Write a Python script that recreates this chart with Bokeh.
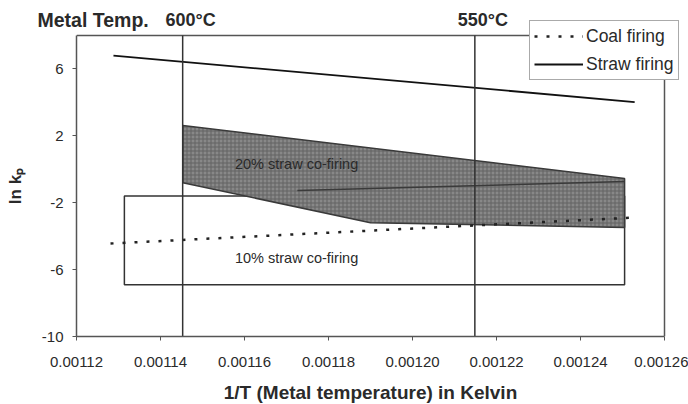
import math

from bokeh.plotting import figure
from bokeh.models import (Label, Legend, LegendItem, FixedTicker,
                          PrintfTickFormatter, Range1d)
from bokeh.core.properties import value
from bokeh.embed import file_html
from bokeh.resources import INLINE

# 1/T (1/K) against ln kp
coal_x = [0.0011281, 0.0012524]
coal_y = [-4.44, -2.89]
straw_x = [0.0011288, 0.0012529]
straw_y = [6.80, 4.02]

# 20 % straw co-firing band (outline)
band20_x = [0.0011453, 0.0012505, 0.0012505, 0.0011900, 0.0011453]
band20_y = [2.62, -0.55, -3.48, -3.20, -0.80]
# darker trend line running through the band
band20_mid_x = [0.0011726, 0.0012505]
band20_mid_y = [-1.27, -0.73]

# 10 % straw co-firing range (box)
box10_x = [0.0011314, 0.0012505]
box10_y = [-6.9, -1.6]

metal_temps_c = [600, 550]
x_ticks = [0.00112, 0.00114, 0.00116, 0.00118, 0.00120, 0.00122, 0.00124, 0.00126]
y_ticks = [-10, -6, -2, 2, 6]

# axis extents of the plot area
X_LO, X_HI = 0.00112, 0.00126
Y_LO, Y_HI = -10, 8
X_MID = (X_LO + X_HI) / 2
Y_MID = (Y_LO + Y_HI) / 2

FONT = "Liberation Sans"
INK = "#2a2a2a"
EDGE = "#555555"

# the frame runs to the top and right edges of the canvas so that the
# header labels and the legend can sit above / beside the plot area
p = figure(width=688, height=404,
           x_range=Range1d(X_LO, X_HI + (X_HI - X_LO) * 24 / 588),
           y_range=Range1d(Y_LO, Y_HI + (Y_HI - Y_LO) * 35 / 301),
           output_backend="svg", toolbar_location=None,
           min_border_left=76, min_border_right=0,
           min_border_top=0, min_border_bottom=68)
p.background_fill_color = "white"
p.border_fill_color = "white"
p.outline_line_color = None
p.xgrid.visible = False
p.ygrid.visible = False

for ax in (p.xaxis[0], p.yaxis[0]):
    ax.axis_line_color = EDGE
    ax.axis_line_width = 1.5
    ax.major_tick_line_color = EDGE
    ax.major_tick_out = 4
    ax.major_tick_in = 0
    ax.minor_tick_line_color = None
    ax.major_label_text_font = FONT
    ax.major_label_text_font_size = "15px"
    ax.major_label_text_color = INK

p.xaxis.bounds = (X_LO, X_HI)
p.xaxis.ticker = FixedTicker(ticks=x_ticks)
p.xaxis.formatter = PrintfTickFormatter(format="%.5f")
p.xaxis.major_label_standoff = 16

p.yaxis.bounds = (Y_LO, Y_HI)
p.yaxis.ticker = FixedTicker(ticks=y_ticks)
p.yaxis.formatter = PrintfTickFormatter(format="%d")
p.yaxis.major_label_standoff = 9

# axis titles, centred on the plot area rather than on the whole frame
p.text(x=[X_MID], y=[Y_LO], text=["1/T (Metal temperature) in Kelvin"],
       y_offset=56, text_align="center", text_baseline="middle",
       text_font=value(FONT), text_font_size="19px", text_font_style="bold",
       text_color=INK, level="overlay")
p.text(x=[X_LO], y=[Y_MID], text=["ln kₚ"], x_offset=-61, angle=math.pi / 2,
       text_align="center", text_baseline="middle",
       text_font=value(FONT), text_font_size="17px", text_font_style="bold",
       text_color=INK, level="overlay")

# top and right edges of the plot area
p.line([X_LO, X_HI, X_HI], [Y_HI, Y_HI, Y_LO], line_color=EDGE, line_width=1.5)

# 10 % co-firing box, drawn under the band
p.quad(left=box10_x[0], right=box10_x[1], bottom=box10_y[0], top=box10_y[1],
       fill_color=None, line_color="#333333", line_width=1.5)

# 20 % co-firing band
p.patch(band20_x, band20_y, fill_color="#888888", line_color="#3a3a3a",
        line_width=1.5, hatch_pattern="+", hatch_color="#626262",
        hatch_scale=4, hatch_weight=1)
p.line(band20_mid_x, band20_mid_y, line_color="#3a3a3a", line_width=1.5)

coal_r = p.line(coal_x, coal_y, line_color="#222222", line_width=2.5,
                line_dash="3 9")
straw_r = p.line(straw_x, straw_y, line_color="#111111", line_width=1.8)

# metal temperature markers
for t in metal_temps_c:
    inv_t = 1.0 / (t + 273.15)
    p.segment(x0=inv_t, y0=Y_LO, x1=inv_t, y1=Y_HI,
              line_color="#333333", line_width=1.5)
    p.add_layout(Label(x=inv_t, y=Y_HI, y_offset=16, x_offset=8,
                       text=f"{t}°C", text_align="center",
                       text_baseline="middle", text_font=FONT,
                       text_font_size="18px", text_font_style="bold",
                       text_color=INK))

p.text(x=[X_LO], y=[Y_HI], text=["Metal Temp."], x_offset=-39, y_offset=-16,
       text_align="left", text_baseline="middle", text_font=value(FONT),
       text_font_size="19.5px", text_font_style="bold", text_color=INK,
       level="overlay")

p.add_layout(Label(x=0.0011724, y=0.34, text="20% straw co-firing",
                   text_align="center", text_baseline="middle",
                   text_font=FONT, text_font_size="14.5px", text_color=INK))
p.add_layout(Label(x=0.0011724, y=-5.28, text="10% straw co-firing",
                   text_align="center", text_baseline="middle",
                   text_font=FONT, text_font_size="14.5px", text_color=INK))

legend = Legend(items=[LegendItem(label="Coal firing", renderers=[coal_r]),
                       LegendItem(label="Straw firing", renderers=[straw_r])],
                location=(453, 256))
legend.border_line_color = EDGE
legend.border_line_width = 1.5
legend.background_fill_color = "white"
legend.background_fill_alpha = 1.0
legend.label_text_font = FONT
legend.label_text_font_size = "17.5px"
legend.label_text_color = INK
legend.glyph_width = 49
legend.glyph_height = 22
legend.label_height = 22
legend.label_standoff = 3
legend.spacing = 6
legend.padding = 4
legend.margin = 0
p.add_layout(legend)

open("out.html", "w").write(file_html(p, INLINE))
